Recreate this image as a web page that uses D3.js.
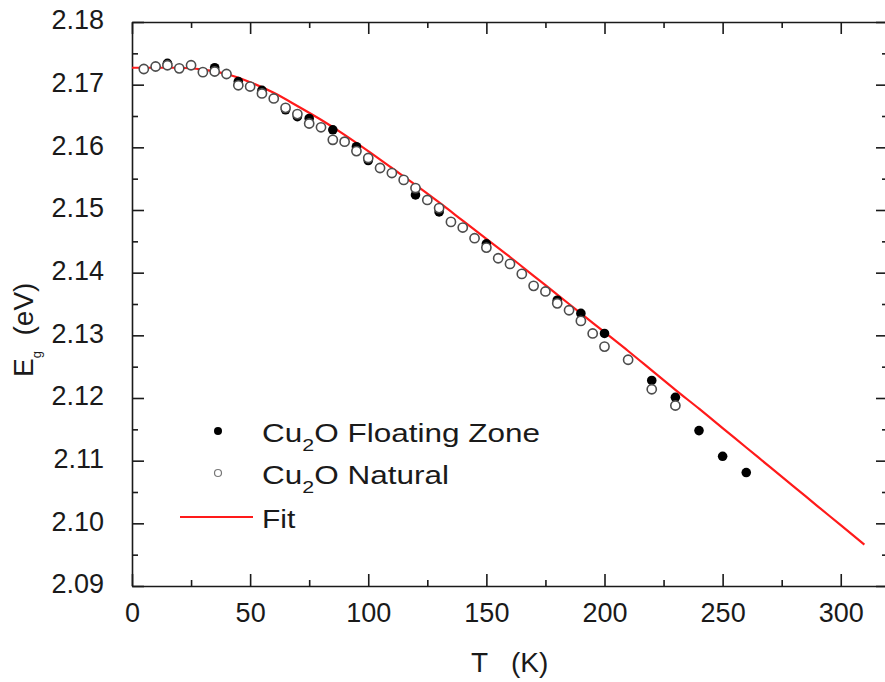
<!DOCTYPE html>
<html>
<head>
    <meta charset="utf-8">
    <title>Cu2O band gap vs temperature</title>
    <style>
        body { margin: 0; background: white; }
        svg { display: block; font-family: "Liberation Sans", Arial, sans-serif; }
        .axis line, .axis path { stroke: #1a1a1a; stroke-width: 1.6; }
        .axis text { fill: #1a1a1a; font-size: 27px; font-family: "Liberation Sans", Arial, sans-serif; }
    </style>
    <script src="https://cdn.jsdelivr.net/npm/d3@7"></script>
</head>
<body>
<div id="chart"></div>
<script>
    // Cu2O floating zone crystal (filled dots)
    var floatT = [15, 35, 45, 55, 65, 70, 75, 85, 95, 100, 120, 130, 150, 180, 190, 200, 220, 230, 240, 250, 260];
    var floatE = [2.1734, 2.1727, 2.1705, 2.1691, 2.1660, 2.1649, 2.1646, 2.1628, 2.1601, 2.1579, 2.1524, 2.1497,
                  2.1446, 2.1356, 2.1335, 2.1303, 2.1228, 2.1201, 2.1148, 2.1107, 2.1081];

    // natural Cu2O (open circles)
    var natT = [5, 10, 15, 20, 25, 30, 35, 40, 45, 50, 55, 60, 65, 70, 75, 80, 85, 90, 95, 100, 105, 110, 115,
                120, 125, 130, 135, 140, 145, 150, 155, 160, 165, 170, 175, 180, 185, 190, 195, 200, 210, 220, 230];
    var natE = [2.1725, 2.1729, 2.1731, 2.1726, 2.1731, 2.1720, 2.1721, 2.1717, 2.1699, 2.1697, 2.1686, 2.1678,
                2.1663, 2.1653, 2.1638, 2.1632, 2.1612, 2.1609, 2.1594, 2.1583, 2.1567, 2.1559, 2.1548, 2.1535,
                2.1516, 2.1503, 2.1481, 2.1472, 2.1455, 2.1440, 2.1423, 2.1414, 2.1398, 2.1379, 2.1370, 2.1351,
                2.1340, 2.1323, 2.1303, 2.1282, 2.1261, 2.1214, 2.1188];

    // fit curve
    var fitT = [0, 10, 20, 30, 40, 50, 60, 70, 80, 90, 100, 110, 120, 130, 140, 150, 160, 170, 180, 190, 200,
                210, 220, 230, 240, 250, 260, 270, 280, 290, 300, 310];
    var fitE = [2.1727, 2.1727, 2.1727, 2.1724, 2.1717, 2.1704, 2.1687, 2.1666, 2.1644, 2.1620, 2.1594, 2.1567,
                2.1540, 2.1512, 2.1483, 2.1454, 2.1425, 2.1395, 2.1365, 2.1335, 2.1305, 2.1275, 2.1244, 2.1213,
                2.1183, 2.1152, 2.1121, 2.1090, 2.1059, 2.1028, 2.0997, 2.0966];

    var xTicks = [0, 50, 100, 150, 200, 250, 300];
    var yTicks = [2.09, 2.10, 2.11, 2.12, 2.13, 2.14, 2.15, 2.16, 2.17, 2.18];

    var width = 885, height = 682;
    var pLeft = 132, pRight = 888, pTop = 22, pBottom = 586;

    var svg = d3.select('#chart')
            .append('svg')
            .attr('width', width)
            .attr('height', height);

    var x = d3.scaleLinear().domain([0, 320]).range([pLeft, pRight]);
    var y = d3.scaleLinear().domain([2.09, 2.18]).range([pBottom, pTop]);

    var xMinor = d3.range(0, 321, 25).filter(function(d) { return d % 50 !== 0; });
    var yMinor = d3.range(2.095, 2.18, 0.01);

    function drawMinor(axisFn, scale, vals, transform) {
        svg.append('g')
            .attr('class', 'axis')
            .attr('transform', transform)
            .call(axisFn(scale).tickValues(vals).tickSize(-6).tickFormat(''))
            .select('.domain').remove();
    }

    // bottom axis
    svg.append('g')
        .attr('class', 'axis')
        .attr('transform', 'translate(0,' + pBottom + ')')
        .call(d3.axisBottom(x).tickValues(xTicks).tickSize(-12).tickSizeOuter(0).tickPadding(24))
        .selectAll('text').attr('dy', '0.45em');
    drawMinor(d3.axisBottom, x, xMinor, 'translate(0,' + pBottom + ')');

    // top axis
    svg.append('g')
        .attr('class', 'axis')
        .attr('transform', 'translate(0,' + pTop + ')')
        .call(d3.axisTop(x).tickValues(xTicks).tickSize(-12).tickSizeOuter(0).tickFormat(''));
    drawMinor(d3.axisTop, x, xMinor, 'translate(0,' + pTop + ')');

    // left axis
    svg.append('g')
        .attr('class', 'axis')
        .attr('transform', 'translate(' + pLeft + ',0)')
        .call(d3.axisLeft(y).tickValues(yTicks).tickSize(-12).tickSizeOuter(0).tickPadding(28)
            .tickFormat(d3.format('.2f')))
        .selectAll('text').attr('dy', '0.25em');
    drawMinor(d3.axisLeft, y, yMinor, 'translate(' + pLeft + ',0)');

    // right axis
    svg.append('g')
        .attr('class', 'axis')
        .attr('transform', 'translate(' + pRight + ',0)')
        .call(d3.axisRight(y).tickValues(yTicks).tickSize(-12).tickSizeOuter(0).tickFormat(''));
    drawMinor(d3.axisRight, y, yMinor, 'translate(' + pRight + ',0)');

    // fit line
    var line = d3.line()
        .x(function(d, i) { return x(fitT[i]); })
        .y(function(d) { return y(d); })
        .curve(d3.curveMonotoneX);

    svg.append('path')
        .datum(fitE)
        .attr('d', line)
        .attr('fill', 'none')
        .attr('stroke', '#ff1a1a')
        .attr('stroke-width', 2.2);

    // data
    svg.append('g').selectAll('circle')
        .data(floatE)
        .enter().append('circle')
        .attr('cx', function(d, i) { return x(floatT[i]); })
        .attr('cy', function(d) { return y(d); })
        .attr('r', 4.8)
        .attr('fill', '#000');

    svg.append('g').selectAll('circle')
        .data(natE)
        .enter().append('circle')
        .attr('cx', function(d, i) { return x(natT[i]); })
        .attr('cy', function(d) { return y(d); })
        .attr('r', 4.6)
        .attr('fill', 'white')
        .attr('stroke', '#4d4d4d')
        .attr('stroke-width', 1.6);

    // legend (text in the original is drawn a bit wider than plain Arial)
    var legend = svg.append('g').attr('font-size', 25).attr('fill', '#1a1a1a');
    legend.append('circle').attr('cx', 218).attr('cy', 431).attr('r', 4).attr('fill', '#000');
    legend.append('circle').attr('cx', 218).attr('cy', 473).attr('r', 3.5)
        .attr('fill', 'white').attr('stroke', '#777').attr('stroke-width', 1.2);
    legend.append('line').attr('x1', 180).attr('x2', 253).attr('y1', 517).attr('y2', 517)
        .attr('stroke', '#ff1a1a').attr('stroke-width', 2);

    var names = ['Floating Zone', 'Natural'];
    names.forEach(function(n, i) {
        var t = legend.append('text')
            .attr('transform', 'translate(262,' + (442 + i * 42) + ') scale(1.26,1)');
        t.append('tspan').text('Cu');
        t.append('tspan').attr('font-size', 17).attr('dy', 9).text('2');
        t.append('tspan').attr('dy', -9).text('O ' + n);
    });
    legend.append('text')
        .attr('transform', 'translate(262,528) scale(1.2,1)')
        .text('Fit');

    // axis titles
    svg.append('text')
        .attr('x', 471).attr('y', 672)
        .attr('font-size', 28).attr('fill', '#1a1a1a')
        .style('white-space', 'pre')
        .text('T   (K)');

    var yt = svg.append('text')
        .attr('transform', 'translate(33,377) rotate(-90)')
        .attr('font-size', 28).attr('fill', '#1a1a1a')
        .style('white-space', 'pre');
    yt.append('tspan').text('E');
    yt.append('tspan').attr('font-size', 13).attr('dy', 8).text('g');
    yt.append('tspan').attr('dy', -8).text('  (eV)');
</script>
</body>
</html>
